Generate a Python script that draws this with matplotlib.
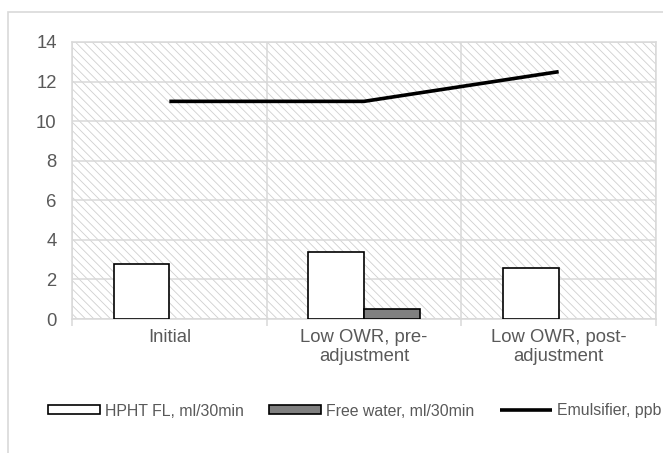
import matplotlib.pyplot as plt
import matplotlib.patches as patches
import numpy as np

plt.rcParams['font.family'] = ['Liberation Sans', 'DejaVu Sans']
plt.rcParams['hatch.linewidth'] = 0.6

categories = ['Initial', 'Low OWR, pre-\nadjustment', 'Low OWR, post-\nadjustment']
hpht_fl = [2.8, 3.4, 2.6]
free_water = [0, 0.5, 0]
emulsifier = [11, 11, 12.5]

text_col = '#595959'
grid_col = '#d9d9d9'

fig = plt.figure(figsize=(6.63, 4.53), dpi=100)
W, H = 663, 453
ax = fig.add_axes([72 / W, 1 - 319 / H, (656 - 72) / W, (319 - 42) / H])

# outer chart border
fig.patches.append(patches.Rectangle((8 / W, -0.1), 1.2, 1 - 12 / H + 0.1,
                                     transform=fig.transFigure, fill=False,
                                     edgecolor=grid_col, linewidth=1.2))

# hatched plot background
ax.add_patch(patches.Rectangle((0, 0), 1, 1, transform=ax.transAxes,
                               facecolor='white', edgecolor='#cfcfcf',
                               linewidth=0, hatch='\\\\\\\\', zorder=0))

x = np.arange(len(categories))
w = 0.286
ax.bar(x - w / 2, hpht_fl, w, color='white', edgecolor='black',
       linewidth=[1.2 if v > 0 else 0 for v in hpht_fl], zorder=3)
ax.bar(x + w / 2, free_water, w, color='#808080', edgecolor='black',
       linewidth=[1.2 if v > 0 else 0 for v in free_water], zorder=3)
ln, = ax.plot(x, emulsifier, color='black', linewidth=2.6,
              zorder=4, solid_capstyle='butt')

ax.set_xlim(-0.5, 2.5)
ax.set_ylim(0, 14)
ax.set_yticks(range(0, 15, 2))
ax.set_xticks(x)
ax.set_xticklabels(categories)
ax.set_xticks([-0.5, 0.5, 1.5, 2.5], minor=True)

ax.set_axisbelow(True)
ax.grid(axis='y', which='major', color=grid_col, linewidth=1.1, zorder=1)
ax.grid(axis='x', which='minor', color=grid_col, linewidth=1.1, zorder=1)

for s in ax.spines.values():
    s.set_color(grid_col)
    s.set_linewidth(1.1)

ax.tick_params(axis='y', length=0, pad=11, labelsize=13.3, labelcolor=text_col)
ax.tick_params(axis='x', which='major', length=0, pad=7, labelsize=13.3,
               labelcolor=text_col)
ax.tick_params(axis='x', which='minor', length=5, color=grid_col, width=1.1)

# legend handles: bars need a visible edge even when the first bar is zero
h1 = patches.Patch(facecolor='white', edgecolor='black', linewidth=1.2)
h2 = patches.Patch(facecolor='#808080', edgecolor='black', linewidth=1.2)
fig.legend([h1, h2, ln], ['HPHT FL, ml/30min', 'Free water, ml/30min', 'Emulsifier, ppb'],
           loc='center left', bbox_to_anchor=(48 / W, 1 - 411 / H), ncol=3,
           frameon=False, fontsize=11.4, handlelength=3.28, handleheight=0.5,
           handletextpad=0.32, columnspacing=1.6, borderpad=0, borderaxespad=0,
           labelcolor=text_col)

fig.savefig('out.png', dpi=100)
